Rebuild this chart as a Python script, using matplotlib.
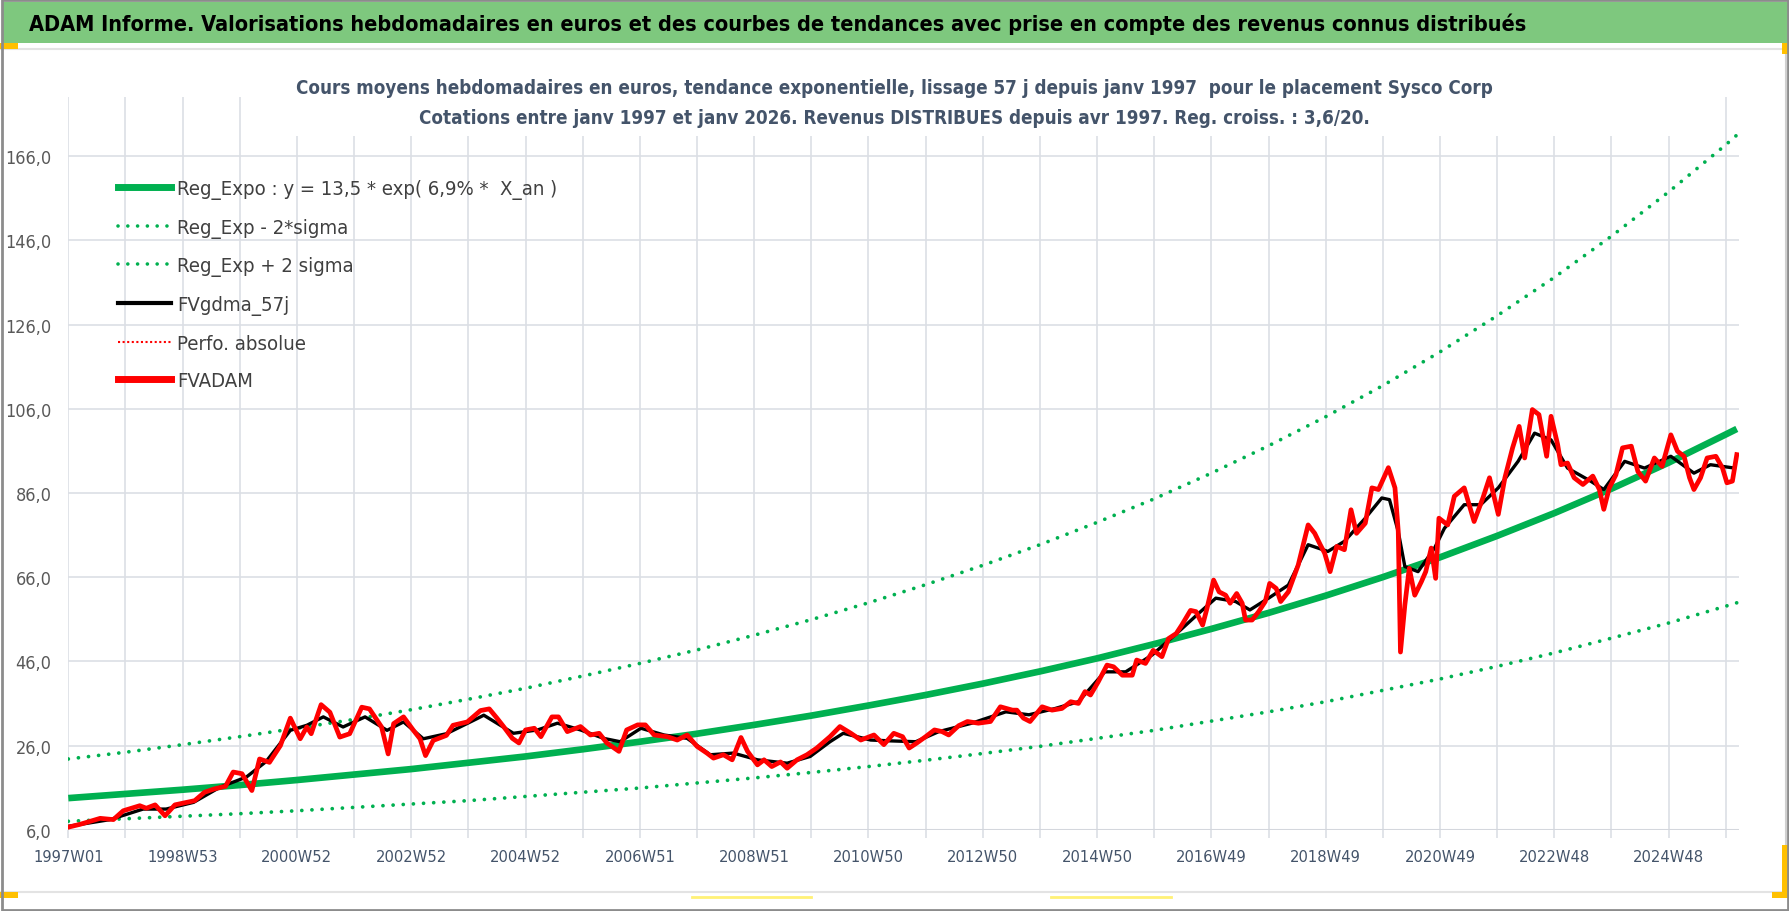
import matplotlib
matplotlib.use("Agg")
import matplotlib.pyplot as plt
from matplotlib.lines import Line2D
from matplotlib.patches import Rectangle

plt.rcParams["font.family"] = ["DejaVu Sans"]
plt.rcParams["font.stretch"] = "condensed"

# cours FVADAM (semaines depuis 1997W01, valeurs en euros)
red_weeks = [0, 11, 29, 41, 50, 65, 71, 79, 88, 97, 106, 115, 124, 133, 143, 150, 158, 167, 174, 183,
             193, 202, 211, 217, 221, 230, 238, 247, 256, 267, 274, 285, 291, 296, 305, 314, 320, 325, 332, 344,
             350, 363, 375, 383, 390, 396, 404, 410, 416, 424, 430, 440, 446, 454, 466, 475, 483, 490, 501, 508,
             518, 525, 533, 545, 554, 563, 572, 581, 587, 596, 604, 612, 618, 627, 633, 640, 648, 654, 663, 672,
             681, 693, 702, 712, 721, 733, 742, 751, 759, 765, 772, 780, 788, 795, 801, 810, 818, 828, 839, 848,
             859, 863, 869, 875, 886, 895, 904, 912, 919, 925, 930, 937, 945, 951, 959, 968, 972, 980, 987, 995,
             1001, 1008, 1013, 1021, 1026, 1032, 1036, 1042, 1047, 1053, 1057, 1063, 1068, 1071, 1077, 1083, 1089, 1093, 1099, 1103,
             1110, 1119, 1128, 1134, 1139, 1143, 1148, 1154, 1161, 1167, 1172, 1180, 1186, 1192, 1201, 1207, 1210, 1212, 1216, 1220,
             1225, 1231, 1235, 1240, 1244, 1247, 1255, 1261, 1270, 1279, 1287, 1293, 1301, 1307, 1314, 1320, 1325, 1332, 1338, 1345,
             1349, 1355, 1358, 1364, 1370, 1378, 1387, 1393, 1397, 1402, 1408, 1414, 1422, 1428, 1435, 1443, 1450, 1458, 1464, 1470,
             1475, 1479, 1485, 1491, 1499, 1505, 1509, 1514, 1518]
red_values = [6.6, 7.3, 8.7, 8.4, 10.5, 11.7, 11.1, 11.9, 9.3, 11.9, 12.4, 12.9, 14.9, 15.7, 16.3, 19.7, 19.3, 15.3, 22.8, 22.0,
              26.0, 32.5, 27.6, 30.4, 28.8, 35.7, 33.9, 28.0, 28.8, 35.1, 34.7, 30.4, 24.0, 31.2, 32.8, 29.6, 27.6, 23.6, 27.2, 28.4,
              30.8, 31.6, 34.3, 34.7, 32.5, 30.5, 27.7, 26.6, 29.7, 30.1, 28.1, 32.8, 32.8, 29.3, 30.5, 28.5, 28.9, 26.6, 24.6, 29.7,
              30.9, 30.9, 28.5, 28.1, 27.3, 28.5, 25.8, 24.2, 23.0, 23.8, 22.6, 27.9, 24.6, 21.4, 22.6, 21.0, 22.1, 20.6, 22.6, 23.8,
              25.4, 28.1, 30.5, 28.9, 27.3, 28.5, 26.2, 28.9, 28.1, 25.4, 26.6, 28.1, 29.7, 29.3, 28.5, 30.7, 31.7, 31.3, 31.7, 35.2,
              34.4, 34.4, 32.5, 31.7, 35.2, 34.4, 34.8, 36.4, 36.0, 38.8, 38.0, 41.1, 45.1, 44.7, 42.7, 42.7, 46.3, 45.5, 48.6, 47.1,
              51.4, 52.6, 54.6, 58.1, 57.8, 54.6, 58.6, 65.3, 62.5, 61.7, 59.8, 62.1, 59.8, 55.8, 55.8, 57.8, 60.2, 64.5, 63.3, 60.2,
              62.5, 68.9, 78.4, 76.4, 73.7, 71.7, 67.3, 73.3, 72.5, 82.0, 76.4, 78.8, 87.2, 86.8, 92.0, 87.2, 76.8, 48.2, 59.4, 68.1,
              61.7, 64.9, 67.3, 72.9, 65.7, 80.0, 78.4, 85.2, 87.2, 79.2, 84.8, 89.6, 80.9, 89.6, 96.7, 101.8, 94.3, 105.8, 104.6, 94.7,
              104.2, 97.5, 92.7, 93.1, 89.6, 88.0, 90.0, 86.8, 82.1, 87.2, 90.3, 96.7, 97.1, 91.1, 88.8, 94.3, 92.3, 99.8, 95.9, 94.7,
              89.6, 86.8, 89.6, 94.3, 94.7, 91.9, 88.4, 88.8, 95.1]

# moyenne glissante FVgdma_57j
black_weeks = [0, 38, 68, 89, 114, 138, 162, 180, 202, 217, 232, 250, 270, 290, 305, 323, 344, 372, 378, 405,
               427, 445, 466, 487, 502, 521, 542, 563, 584, 605, 627, 654, 675, 693, 705, 730, 748, 771, 792, 822,
               853, 874, 898, 919, 943, 962, 986, 1010, 1028, 1044, 1062, 1075, 1092, 1110, 1128, 1146, 1161, 1180, 1195, 1202,
               1210, 1216, 1228, 1243, 1252, 1270, 1285, 1301, 1319, 1334, 1349, 1364, 1385, 1397, 1416, 1434, 1458, 1479, 1494, 1516]
black_values = [6.8, 8.4, 10.9, 10.9, 12.5, 16.1, 18.5, 22.2, 29.6, 30.8, 32.8, 30.4, 32.8, 29.6, 31.6, 27.6, 28.8, 32.4, 33.2, 28.9,
                29.7, 31.3, 29.7, 27.7, 26.9, 30.1, 28.5, 27.7, 23.8, 24.2, 22.6, 21.8, 23.4, 26.9, 28.9, 27.3, 27.1, 26.9, 29.3, 31.3,
                34.0, 33.3, 34.8, 36.4, 43.5, 43.5, 47.5, 53.0, 57.3, 61.0, 60.2, 58.2, 61.0, 64.1, 73.7, 72.1, 74.5, 80.0, 84.8, 84.4,
                76.8, 68.5, 67.3, 72.9, 77.6, 83.2, 83.2, 87.2, 93.5, 100.2, 98.6, 91.9, 88.8, 86.8, 93.5, 91.9, 94.7, 90.7, 92.7, 91.9]

# tendance exponentielle et bandes +/- 2 sigma (une valeur par an)
trend_weeks = [0, 52, 104, 156, 208, 260, 312, 364, 416, 468, 520, 572, 624, 676, 728, 780, 832, 884, 936, 988,
               1040, 1092, 1144, 1196, 1248, 1300, 1352, 1404, 1456, 1508, 1518]
trend_values = [13.5, 14.5, 15.5, 16.6, 17.8, 19.1, 20.4, 21.9, 23.4, 25.1, 26.9, 28.8, 30.9, 33.1, 35.5, 38.0, 40.7, 43.6, 46.7, 50.1,
                53.7, 57.5, 61.6, 66.0, 70.7, 75.8, 81.2, 87.0, 93.2, 99.9, 101.2]
upper_values = [22.8, 24.4, 26.2, 28.1, 30.1, 32.2, 34.5, 37.0, 39.6, 42.5, 45.5, 48.7, 52.2, 55.9, 59.9, 64.2, 68.8, 73.7, 79.0, 84.6,
                90.7, 97.2, 104.1, 111.5, 119.5, 128.1, 137.2, 147.0, 157.5, 168.7, 171.0]
lower_values = [8.0, 8.6, 9.2, 9.8, 10.5, 11.3, 12.1, 12.9, 13.9, 14.9, 15.9, 17.1, 18.3, 19.6, 21.0, 22.5, 24.1, 25.8, 27.7, 29.6,
                31.8, 34.0, 36.4, 39.1, 41.8, 44.8, 48.0, 51.5, 55.1, 59.1, 59.9]

x_label_weeks = [0, 104, 208, 312, 416, 520, 624, 728, 832, 936, 1040, 1144, 1248, 1352, 1456]
x_labels = ["1997W01", "1998W53", "2000W52", "2002W52", "2004W52", "2006W51", "2008W51", "2010W50",
            "2012W50", "2014W50", "2016W49", "2018W49", "2020W49", "2022W48", "2024W48"]
y_ticks = [6, 26, 46, 66, 86, 106, 126, 146, 166]
y_labels = ["6,0", "26,0", "46,0", "66,0", "86,0", "106,0", "126,0", "146,0", "166,0"]

W, H = 1790, 912
fig = plt.figure(figsize=(W / 100, H / 100), dpi=100)
fig.patch.set_facecolor("white")


def fx(px):
    return px / W


def fy(py):
    return 1 - py / H


# bandeau vert
fig.patches.append(Rectangle((fx(2), fy(44)), fx(1786), 41 / H, transform=fig.transFigure,
                             facecolor="#7EC87E", edgecolor="none", zorder=0))
fig.text(fx(29), fy(24), "ADAM Informe. Valorisations hebdomadaires en euros et des courbes de tendances "
         "avec prise en compte des revenus connus distribués",
         fontsize=15.6, fontweight="bold", color="black", va="center", ha="left")

# traits décoratifs
fig.add_artist(Line2D([fx(0), fx(1790)], [fy(50), fy(50)], color="#E3E3E3", lw=1.5))
fig.add_artist(Line2D([fx(0), fx(1790)], [fy(893), fy(893)], color="#E3E3E3", lw=1.5))
fig.add_artist(Line2D([fx(1786), fx(1786)], [fy(55), fy(846)], color="#D0D0D0", lw=1.5))
for (x0, y0, w, h) in [(0, 44, 18, 6), (0, 893, 18, 6), (1782, 44, 6, 11), (1772, 893, 18, 6), (1782, 846, 6, 50)]:
    fig.patches.append(Rectangle((fx(x0), fy(y0 + h)), w / W, h / H, transform=fig.transFigure,
                                 facecolor="#FFC000", edgecolor="none", zorder=2))
for (x0, x1) in [(692, 811), (1051, 1171)]:
    fig.add_artist(Line2D([fx(x0), fx(x1)], [fy(898), fy(898)], color="#FFF176", lw=2))
fig.patches.append(Rectangle((0.001, 0.001), 0.998, 0.998, transform=fig.transFigure,
                             facecolor="none", edgecolor="#8C8C8C", lw=2, zorder=5))

# zone du graphique
ax = fig.add_axes([fx(68.3), fy(830.7), fx(1739 - 68.3), (830.7 - 98.2) / H])
ax.set_xlim(0, 1520)
ax.set_ylim(6, 180)

grid_c = "#DCDFE5"
for w in range(0, 1509, 52):
    ax.axvline(w, color=grid_c, lw=1.2, zorder=0)
for v in y_ticks[1:]:
    ax.axhline(v, color=grid_c, lw=1.2, zorder=0)
ax.axhline(6, color="#D4D7DD", lw=2.2, zorder=0.5)

green = "#00B050"
dots = (0, (0.01, 2.7))
ax.plot(trend_weeks, upper_values, color=green, lw=2.7, linestyle=dots, dash_capstyle="round", zorder=2)
ax.plot(trend_weeks, lower_values, color=green, lw=2.7, linestyle=dots, dash_capstyle="round", zorder=2)
ax.plot(trend_weeks, trend_values, color=green, lw=4.8, solid_capstyle="butt", zorder=3)
ax.plot(black_weeks, black_values, color="black", lw=2.4, zorder=4)
ax.plot(red_weeks, red_values, color="#FF0000", lw=3.4, solid_joinstyle="round", zorder=5)

ax.set_xticks(range(0, 1509, 52), minor=True)
ax.set_xticks(x_label_weeks)
ax.set_xticklabels(x_labels)
ax.set_yticks(y_ticks)
ax.set_yticklabels(y_labels)
ax.tick_params(axis="x", which="both", length=6, width=1.2, color=grid_c, pad=8,
               labelsize=11.8, labelcolor="#44546A")
ax.tick_params(axis="y", length=0, pad=12, labelsize=13, labelcolor="#595959")
for s in ax.spines.values():
    s.set_visible(False)

# légende
handles = [
    Line2D([], [], color=green, lw=5),
    Line2D([], [], color=green, lw=2.6, linestyle=dots, dash_capstyle="round"),
    Line2D([], [], color=green, lw=2.6, linestyle=dots, dash_capstyle="round"),
    Line2D([], [], color="black", lw=3),
    Line2D([], [], color="#FF0000", lw=1.5, linestyle=(0, (1, 1.2))),
    Line2D([], [], color="#FF0000", lw=5),
]
names = ["Reg_Expo : y = 13,5 * exp( 6,9% *  X_an )", "Reg_Exp - 2*sigma", "Reg_Exp + 2 sigma",
         "FVgdma_57j", "Perfo. absolue", "FVADAM"]
leg = fig.legend(handles, names, loc="upper left", bbox_to_anchor=(fx(118), fy(180)),
                 frameon=False, fontsize=14.6, handlelength=2.6, handletextpad=0.3,
                 labelspacing=0.92, borderpad=0, borderaxespad=0)
for t in leg.get_texts():
    t.set_color("#404040")

# titre du graphique sur fond blanc
fig.patches.append(Rectangle((fx(265), fy(137)), fx(1700 - 265), 70 / H, transform=fig.transFigure,
                             facecolor="white", edgecolor="none", zorder=1))
title_c = "#44546A"
fig.text(fx(894), fy(89), "Cours moyens hebdomadaires en euros, tendance exponentielle, lissage 57 j depuis "
         "janv 1997  pour le placement Sysco Corp", fontsize=13.5, fontweight="bold", color=title_c,
         ha="center", va="center", zorder=3)
fig.text(fx(894), fy(118), "Cotations entre janv 1997 et janv 2026. Revenus DISTRIBUES depuis avr 1997. "
         "Reg. croiss. : 3,6/20.", fontsize=13.5, fontweight="bold", color=title_c,
         ha="center", va="center", zorder=3)

fig.savefig("out.png", dpi=100)
